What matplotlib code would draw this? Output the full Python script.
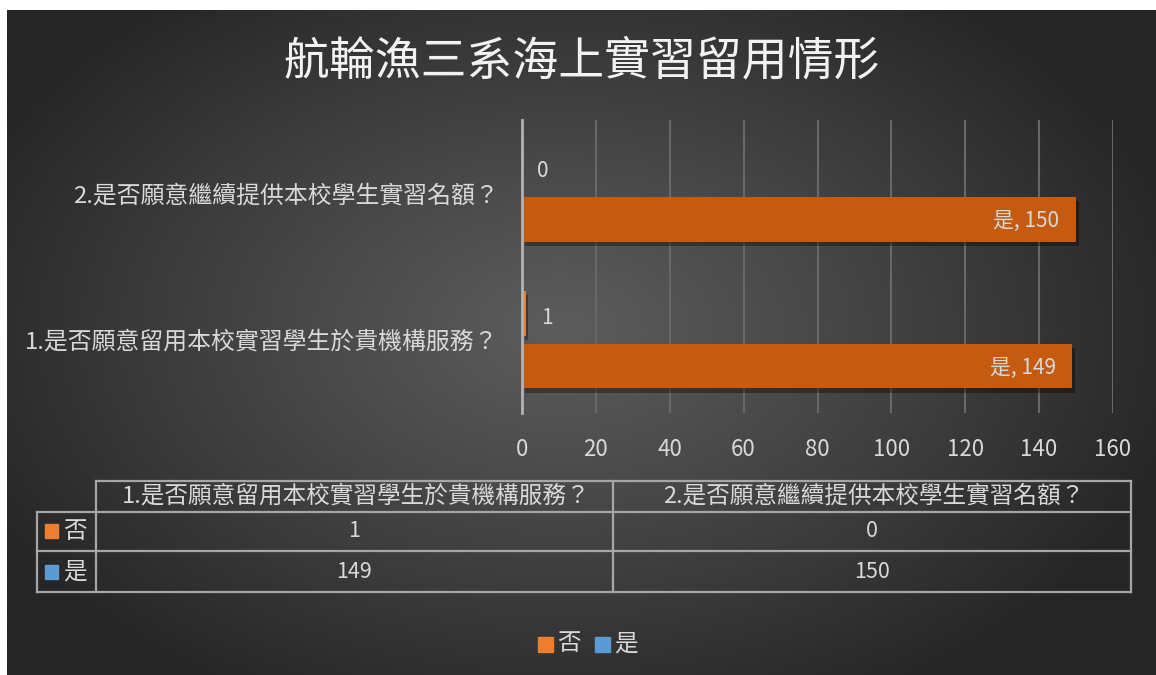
import numpy as np
import matplotlib

matplotlib.use('Agg')

import matplotlib.pyplot as plt
from matplotlib.lines import Line2D
from matplotlib.patches import Rectangle
import matplotlib.patheffects as pe

plt.rcParams['font.family'] = ['Noto Sans CJK TC', 'DejaVu Sans']

# data
title = '航輪漁三系海上實習留用情形'
questions = ['1.是否願意留用本校實習學生於貴機構服務？', '2.是否願意繼續提供本校學生實習名額？']
series_names = ['否', '是']
no_vals = [1, 0]
yes_vals = [149, 150]
xticks = [0, 20, 40, 60, 80, 100, 120, 140, 160]

W, H = 1156, 675
txt = '#d9d9d9'
orange_dark = '#c55a11'
orange = '#ed7d31'
blue = '#5b9bd5'
line_col = '#a6a6a6'


def px(x, y):
    return x / W, 1 - y / H


fig = plt.figure(figsize=(W / 100, H / 100), dpi=100)
fig.patch.set_facecolor('white')

# radial gradient background
bg = fig.add_axes([7 / W, 0, 1 - 7 / W, 1 - 10 / H], zorder=-10)
gx, gy = np.meshgrid(np.linspace(7, W, 600), np.linspace(10, H, 350))
r = np.sqrt(((gx - 560) / 640) ** 2 + ((gy - 330) / 420) ** 2)
r = np.clip(r, 0, 1)
light, dark = 0x5c / 255, 0x26 / 255
g = light + (dark - light) * r ** 1.1
bg.imshow(np.dstack([g, g, g]), aspect='auto', extent=[0, 1, 0, 1])
bg.axis('off')

# bar chart
ax = fig.add_axes([522 / W, 1 - 413 / H, (1113 - 522) / W, (413 - 120) / H])
ax.set_facecolor('none')
y = np.arange(len(questions))
h = 0.305
off = 0.18
shadow = [pe.SimplePatchShadow(offset=(2, -3), shadow_rgbFace='black', alpha=0.35), pe.Normal()]
b_no = ax.barh(y + off, no_vals, height=h, color=orange, zorder=3)
b_yes = ax.barh(y - off, yes_vals, height=h, color=orange_dark, zorder=3)
for b in list(b_no) + list(b_yes):
    b.set_path_effects(shadow)

for yi, v in zip(y, no_vals):
    ax.annotate(str(v), (v, yi + off), xytext=(11, -3), textcoords='offset points',
                ha='left', va='center', color=txt, fontsize=15, zorder=4)
for yi, v in zip(y, yes_vals):
    ax.annotate('是, %d' % v, (v, yi - off), xytext=(-12, -1), textcoords='offset points',
                ha='right', va='center', color=txt, fontsize=15, zorder=4)

ax.set_xlim(0, 160)
ax.set_ylim(-0.5, 1.5)
ax.set_xticks(xticks)
ax.set_yticks(y)
ax.set_yticklabels(questions)
ax.tick_params(axis='both', length=0, colors=txt)
ax.tick_params(axis='x', pad=18, labelsize=16)
ax.tick_params(axis='y', pad=17, labelsize=17.2)
ax.grid(axis='x', color='#686868', linewidth=1.5, zorder=0)
for s in ['top', 'right', 'bottom']:
    ax.spines[s].set_visible(False)
ax.spines['left'].set_color('#b3b3b3')
ax.spines['left'].set_linewidth(2)
ax.spines['left'].set_zorder(5)

# title
fig.text(*px(582, 61), title, ha='center', va='center', color='#f2f2f2', fontsize=33)

# data table
def hline(x0, x1, yy):
    fig.add_artist(Line2D([x0 / W, x1 / W], [1 - yy / H, 1 - yy / H], color=line_col, lw=1.6))


def vline(xx, y0, y1):
    fig.add_artist(Line2D([xx / W, xx / W], [1 - y0 / H, 1 - y1 / H], color=line_col, lw=1.6))


cols = [96, 613, 1131]
rows = [481, 512, 551, 592]
hline(96, 1131, rows[0])
for yy in rows[1:]:
    hline(37, 1131, yy)
vline(37, rows[1], rows[3])
for xx in cols:
    vline(xx, rows[0], rows[3])

for i, q in enumerate(questions):
    cx = (cols[i] + cols[i + 1]) / 2
    fig.text(*px(cx + 2, 496), q, ha='center', va='center', color=txt, fontsize=17)
    fig.text(*px(cx, 531), str(no_vals[i]), ha='center', va='center', color=txt, fontsize=15.5)
    fig.text(*px(cx, 572), str(yes_vals[i]), ha='center', va='center', color=txt, fontsize=15.5)

for name, col, yy in zip(series_names, [orange, blue], [531, 572]):
    fig.add_artist(Rectangle(px(45, yy + 7), 13 / W, 14 / H, color=col))
    fig.text(*px(63, yy), name, ha='left', va='center', color=txt, fontsize=17)

# legend
for name, col, x0 in zip(series_names, [orange, blue], [538, 595]):
    fig.add_artist(Rectangle(px(x0, 652), 15 / W, 15 / H, color=col))
    fig.text(*px(x0 + 19, 644), name, ha='left', va='center', color=txt, fontsize=17)

plt.savefig('out.png', dpi=100)
plt.close()
